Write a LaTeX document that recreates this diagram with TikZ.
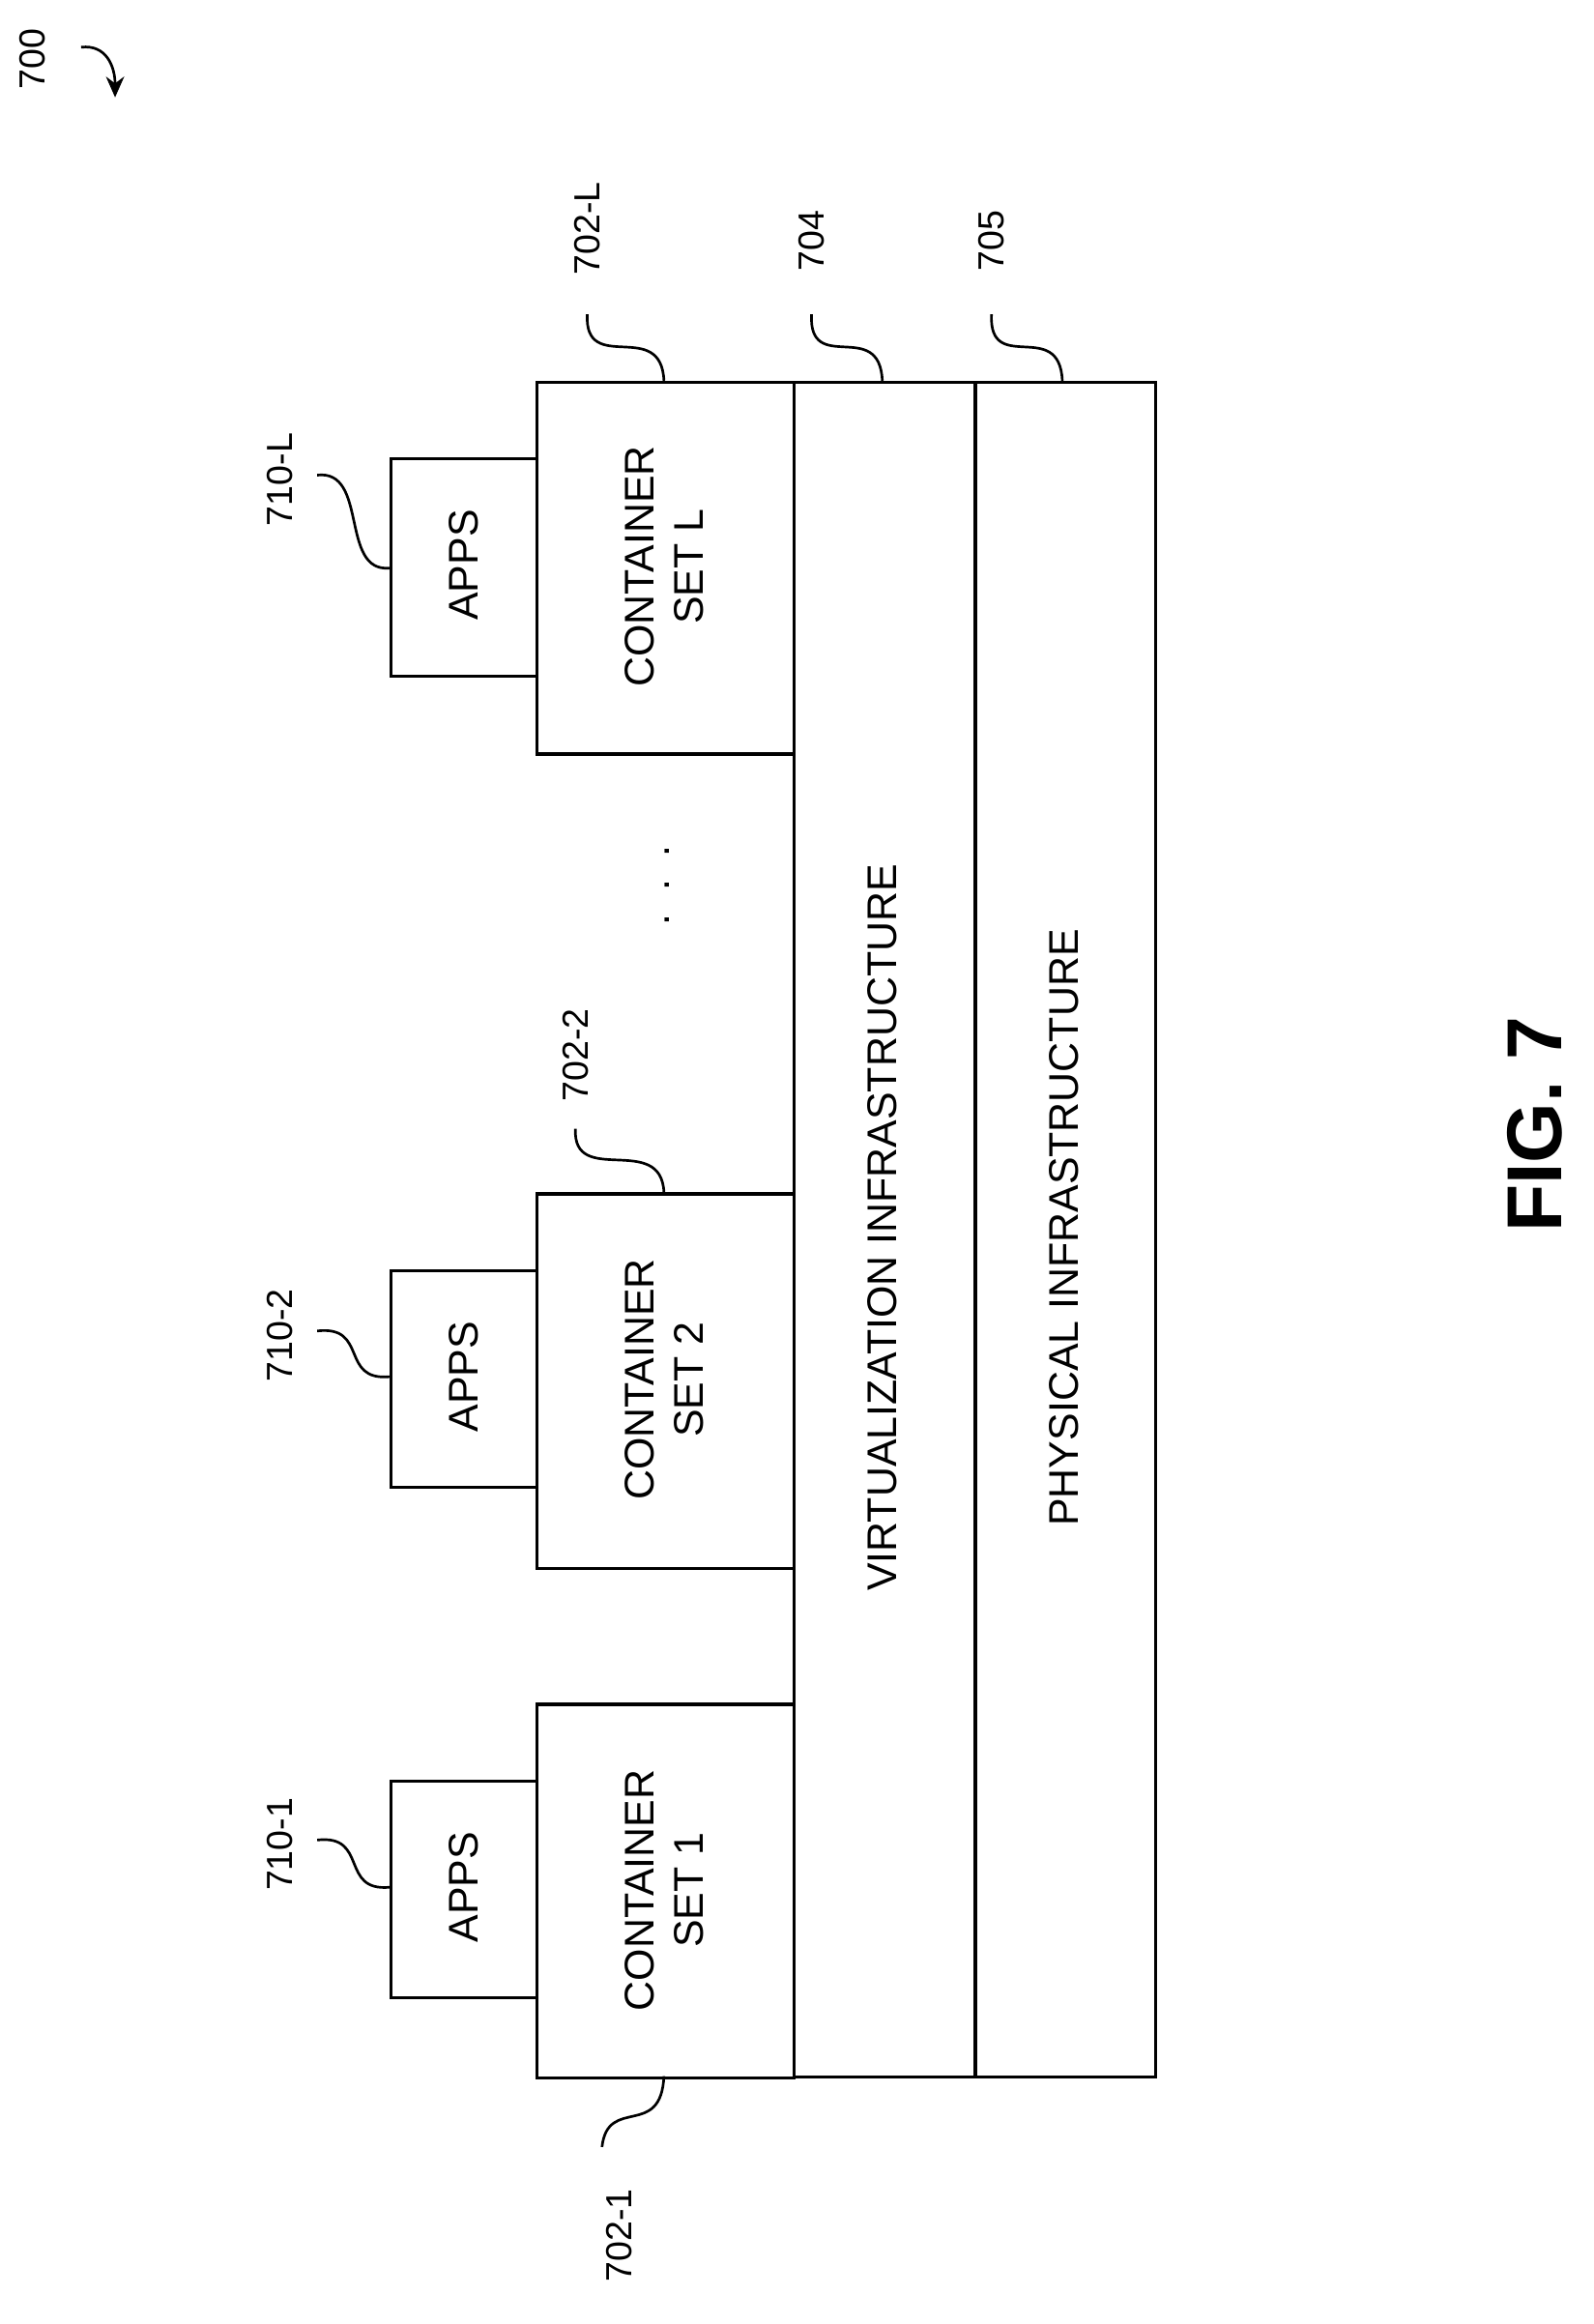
\documentclass[tikz,border=0pt]{standalone}
\usepackage{fontspec}
\setmainfont{Liberation Sans}
\usetikzlibrary{arrows.meta}
\begin{document}
\begin{tikzpicture}[x=0.02cm,y=-0.02cm,
  box/.style={draw,line width=1.2pt,inner sep=0,anchor=north west},
  txt/.style={rotate=90,font=\fontsize{16}{19}\selectfont,align=center},
  lbl/.style={rotate=90,font=\fontsize{14}{17}\selectfont},
  lead/.style={line width=1pt}]
\useasboundingbox (0,0) rectangle (1080,1575);
% boxes
\node[box,minimum width=2.44cm,minimum height=22.98cm] (phys) at (660,258) {};
\node[box,minimum width=2.46cm,minimum height=22.98cm] (virt) at (537,258) {};
\node[box,minimum width=3.48cm,minimum height=5.04cm] (csL) at (363,258) {};
\node[box,minimum width=3.48cm,minimum height=5.08cm] (cs2) at (363,808) {};
\node[box,minimum width=3.48cm,minimum height=5.06cm] (cs1) at (363,1154) {};
\node[box,minimum width=1.98cm,minimum height=2.94cm] (apL) at (264,310) {};
\node[box,minimum width=1.98cm,minimum height=2.94cm] (ap2) at (264,860) {};
\node[box,minimum width=1.98cm,minimum height=2.94cm] (ap1) at (264,1206) {};
% texts
\node[txt] (tphys) at (721,832) {PHYSICAL INFRASTRUCTURE};
\node[txt] (tvirt) at (598,832) {VIRTUALIZATION INFRASTRUCTURE};
\node[txt] (tcsL) at (450,384) {CONTAINER\\SET L};
\node[txt] (tcs2) at (450,935) {CONTAINER\\SET 2};
\node[txt] (tcs1) at (450,1281) {CONTAINER\\SET 1};
\node[txt] (taL) at (314,383) {APPS};
\node[txt] (ta2) at (314,933) {APPS};
\node[txt] (ta1) at (314,1279) {APPS};
\node[txt] (dots) at (452,600) {.\ \ .\ \ .};
\node[rotate=90,font=\fontsize{30}{36}\selectfont\bfseries] (fig) at (1040,762) {FIG. 7};
% labels
\node[lbl] (l710L) at (190,325) {710-L};
\node[lbl] (l7102) at (190,905) {710-2};
\node[lbl] (l7101) at (190,1250) {710-1};
\node[lbl] (l702L) at (398,155) {702-L};
\node[lbl] (l704) at (550,163) {704};
\node[lbl] (l705) at (672,163) {705};
\node[lbl] (l7022) at (390,715) {702-2};
\node[lbl] (l7021) at (420,1515) {702-1};
\node[lbl] (l700) at (22,40) {700};
% leaders
\coordinate (s1) at (215,322); \coordinate (e1) at (264,385);
\draw[lead] (s1) .. controls (250,318) and (230,388) .. (e1);
\coordinate (s2) at (215,902); \coordinate (e2) at (264,933);
\draw[lead] (s2) .. controls (250,898) and (230,936) .. (e2);
\coordinate (s3) at (215,1247); \coordinate (e3) at (264,1279);
\draw[lead] (s3) .. controls (250,1243) and (230,1282) .. (e3);
\coordinate (s4) at (398,213); \coordinate (e4) at (450,258);
\draw[lead] (s4) .. controls (396,255) and (448,215) .. (e4);
\coordinate (s5) at (550,213); \coordinate (e5) at (598,258);
\draw[lead] (s5) .. controls (548,255) and (596,215) .. (e5);
\coordinate (s6) at (672,213); \coordinate (e6) at (720,258);
\draw[lead] (s6) .. controls (670,255) and (718,215) .. (e6);
\coordinate (s7) at (390,765); \coordinate (e7) at (450,808);
\draw[lead] (s7) .. controls (388,805) and (448,767) .. (e7);
\coordinate (s8) at (408,1455); \coordinate (e8) at (450,1407);
\draw[lead] (s8) .. controls (412,1420) and (448,1450) .. (e8);
\coordinate (s9) at (55,32); \coordinate (e9) at (78,66);
\draw[lead,-{Stealth[length=8pt,width=7pt]}] (s9) .. controls (72,30) and (78,45) .. (e9);
\end{tikzpicture}
\end{document}
